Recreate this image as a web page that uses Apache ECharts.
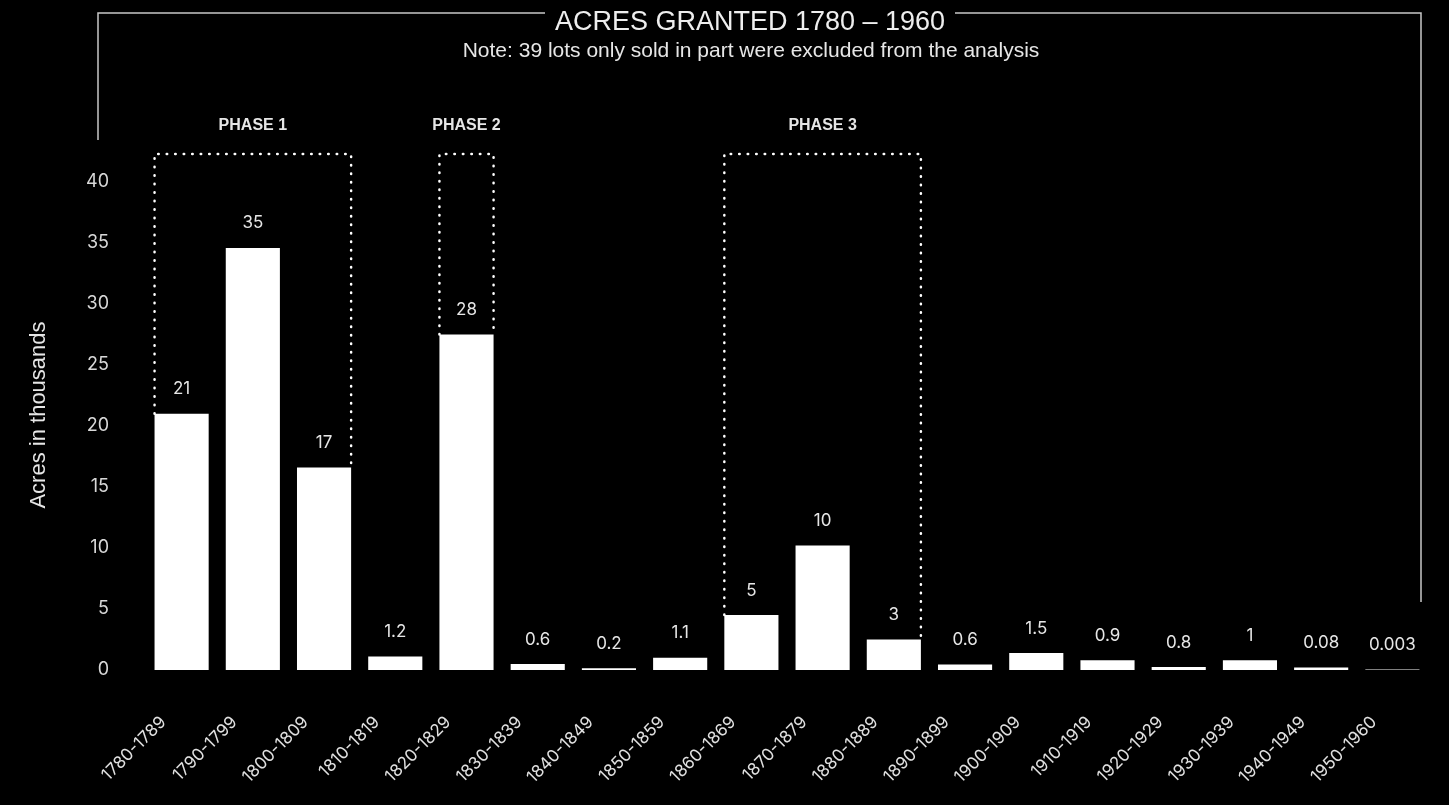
<!DOCTYPE html>
<html>
<head>
<meta charset="utf-8">
<script src="https://cdn.jsdelivr.net/npm/echarts@6/dist/echarts.min.js"></script>
<style>
  html, body { margin: 0; padding: 0; background: #000; }
  #chart { width: 1449px; height: 805px; }
</style>
</head>
<body>
<div id="chart"></div>
<script>
// decades on the x axis
const decades = ['1780-1789', '1790-1799', '1800-1809', '1810-1819', '1820-1829', '1830-1839',
  '1840-1849', '1850-1859', '1860-1869', '1870-1879', '1880-1889', '1890-1899',
  '1900-1909', '1910-1919', '1920-1929', '1930-1939', '1940-1949', '1950-1960']
// bar heights as drawn (thousand acres)
const acres = [21, 34.6, 16.6, 1.1, 27.5, 0.5, 0.15, 1.0, 4.5, 10.2, 2.5, 0.45, 1.4, 0.8, 0.25, 0.8, 0.2, 0.05]
// printed labels above bars
const acreLabels = ['21', '35', '17', '1.2', '28', '0.6', '0.2', '1.1', '5', '10', '3', '0.6', '1.5', '0.9', '0.8', '1', '0.08', '0.003']
// phases: first decade index, last decade index
const phaseNames = ['PHASE 1', 'PHASE 2', 'PHASE 3']
const phaseStart = [0, 4, 8]
const phaseEnd = [2, 4, 10]
const phaseTop = 42.3

const barGap = 0.24

const chart = echarts.init(document.getElementById('chart'))

chart.setOption({
  backgroundColor: '#000',
  animation: false,
  grid: { left: 146, right: 21, top: 182, bottom: 135 },
  graphic: [
    {
      type: 'polyline',
      shape: { points: [[98, 140], [98, 13], [545, 13]] },
      style: { stroke: '#c8c8c8', lineWidth: 1.5, fill: null }
    },
    {
      type: 'polyline',
      shape: { points: [[955, 13], [1421, 13], [1421, 602]] },
      style: { stroke: '#c8c8c8', lineWidth: 1.5, fill: null }
    },
    {
      type: 'text', x: 750, y: 23,
      style: { text: 'ACRES GRANTED 1780 – 1960', fill: '#eee', font: '27px "Liberation Sans"', align: 'center', verticalAlign: 'middle' }
    },
    {
      type: 'text', x: 751, y: 51,
      style: { text: 'Note: 39 lots only sold in part were excluded from the analysis', fill: '#e6e6e6', font: '21px "Liberation Sans"', align: 'center', verticalAlign: 'middle' }
    }
  ],
  xAxis: {
    type: 'category',
    data: decades,
    axisLine: { show: false },
    axisTick: { show: false },
    axisLabel: {
      rotate: 45,
      interval: 0,
      color: '#e0e0e0',
      fontFamily: 'Inter',
      fontSize: 17,
      margin: 31,
      padding: [0, 26, 0, 0]
    }
  },
  yAxis: {
    type: 'value',
    min: 0,
    max: 40,
    interval: 5,
    name: 'Acres in thousands',
    nameLocation: 'middle',
    nameGap: 96,
    nameTextStyle: { color: '#e6e6e6', fontSize: 22, fontFamily: 'Liberation Sans', padding: [0, 0, 0, 22] },
    axisLine: { show: false },
    axisTick: { show: false },
    splitLine: { show: false },
    axisLabel: { color: '#d8d8d8', fontFamily: 'Inter', fontSize: 18, margin: 37 }
  },
  series: [
    {
      type: 'bar',
      data: acres,
      barCategoryGap: (barGap * 100) + '%',
      itemStyle: { color: '#fff' },
      label: {
        show: true,
        position: 'top',
        distance: 16,
        color: '#e6e6e6',
        fontFamily: 'Inter',
        fontSize: 17,
        formatter: p => acreLabels[p.dataIndex]
      }
    },
    {
      type: 'custom',
      data: phaseNames.map((n, i) => [phaseStart[i], phaseEnd[i], phaseTop]),
      encode: { x: [0, 1], y: 2 },
      renderItem(params, api) {
        const i = params.dataIndex
        const s = api.value(0), e = api.value(1)
        const half = api.size([1, 0])[0] * (1 - barGap) / 2
        const x0 = api.coord([s, 0])[0] - half
        const x1 = api.coord([e, 0])[0] + half
        const yTop = api.coord([s, api.value(2)])[1]
        const yL = api.coord([s, acres[s]])[1]
        const yR = api.coord([e, acres[e]])[1]
        return {
          type: 'group',
          children: [
            {
              type: 'polyline',
              shape: { points: [[x0, yL], [x0, yTop], [x1, yTop], [x1, yR]] },
              style: { stroke: '#fff', lineWidth: 2.5, lineDash: [0.5, 8], lineCap: 'round', fill: null }
            },
            {
              type: 'text',
              x: (x0 + x1) / 2,
              y: yTop - 28,
              style: { text: phaseNames[i], fill: '#e6e6e6', font: 'bold 16px "Liberation Sans"', align: 'center', verticalAlign: 'middle' }
            }
          ]
        }
      }
    }
  ]
})
</script>
</body>
</html>
